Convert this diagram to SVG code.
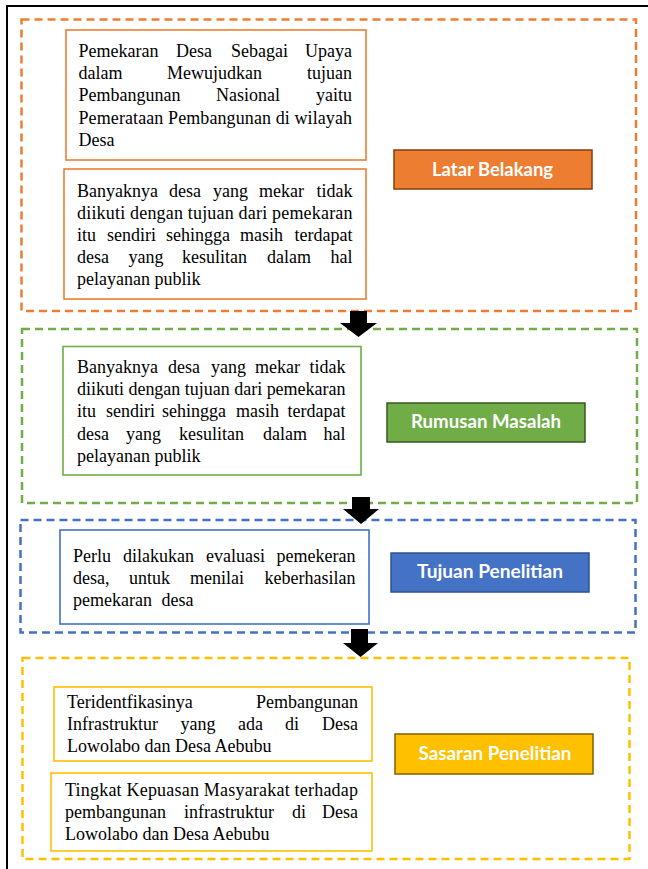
<svg xmlns="http://www.w3.org/2000/svg" width="648" height="869" viewBox="0 0 648 869">
<style>
.frame{fill:none;stroke:#000;stroke-width:2}
.dash{fill:none;stroke-width:2.5;stroke-dasharray:8 5}
.box{fill:#fff;stroke-width:1.6}
.t{font-family:"Liberation Serif","Times New Roman",serif;font-size:18px;fill:#000}
.e{text-anchor:end}
.lbl{font-family:Lato,"Liberation Sans",sans-serif;font-weight:bold;font-size:18px;fill:#fff;text-anchor:middle}
.arrow{fill:#000}
.or{stroke:#ED7D31}.gr{stroke:#70AD47}.bl{stroke:#4472C4}.ye{stroke:#FFC000}
</style>
<rect width="648" height="869" fill="#fff"/>
<path class="frame" d="M7,869 V6 H648"/>

<g id="latar-belakang-group">
<rect class="dash or" x="21.5" y="19.5" width="614.5" height="291.5"/>
</g>
<g id="latar-box-1">
<rect class="box or" x="66" y="30" width="300" height="130"/>
<text class="t" y="57"><tspan x="78.5">Pemekaran</tspan><tspan x="176">Desa</tspan><tspan x="231">Sebagai</tspan><tspan x="352" class="e">Upaya</tspan></text>
<text class="t" y="79"><tspan x="78.5">dalam</tspan><tspan x="167">Mewujudkan</tspan></text>
<text class="t e" x="352" y="79">tujuan</text>
<text class="t" y="101"><tspan x="78.5">Pembangunan</tspan><tspan x="216">Nasional</tspan></text>
<text class="t e" x="352" y="101">yaitu</text>
<text class="t" x="78.5" y="124" textLength="273.5" lengthAdjust="spacing">Pemerataan Pembangunan di wilayah</text>
<text class="t" x="78.5" y="146">Desa</text>
</g>
<g id="latar-box-2">
<rect class="box or" x="64" y="169" width="302" height="130"/>
<text class="t" y="197"><tspan x="77">Banyaknya</tspan><tspan x="169">desa</tspan><tspan x="213">yang</tspan><tspan x="259">mekar</tspan></text>
<text class="t e" x="352.5" y="197">tidak</text>
<text class="t" x="77" y="219" textLength="275.5" lengthAdjust="spacing">diikuti dengan tujuan dari pemekaran</text>
<text class="t" y="241"><tspan x="77">itu</tspan><tspan x="107">sendiri</tspan><tspan x="166">sehingga</tspan><tspan x="240">masih</tspan></text>
<text class="t e" x="352.5" y="241">terdapat</text>
<text class="t" y="263"><tspan x="77">desa</tspan><tspan x="128.5">yang</tspan><tspan x="182">kesulitan</tspan><tspan x="267">dalam</tspan></text>
<text class="t e" x="352.5" y="263">hal</text>
<text class="t" x="77" y="285">pelayanan publik</text>
</g>
<g id="latar-belakang">
<rect x="394" y="150" width="198" height="39" fill="#ED7D31" stroke="#843C0C" stroke-width="1.5"/>
<text class="lbl" x="492.5" y="176" textLength="121" lengthAdjust="spacingAndGlyphs">Latar Belakang</text>
</g>

<g id="rumusan-masalah-group">
<rect class="dash gr" x="22" y="329" width="615" height="174"/>
</g>
<g id="rumusan-box">
<rect class="box gr" x="63" y="346.5" width="298" height="128.5"/>
<text class="t" y="373"><tspan x="77">Banyaknya</tspan><tspan x="168">desa</tspan><tspan x="211">yang</tspan><tspan x="255">mekar</tspan></text>
<text class="t e" x="345.5" y="373">tidak</text>
<text class="t" x="77" y="395" textLength="268.5" lengthAdjust="spacing">diikuti dengan tujuan dari pemekaran</text>
<text class="t" y="417"><tspan x="77">itu</tspan><tspan x="106">sendiri</tspan><tspan x="162">sehingga</tspan><tspan x="236">masih</tspan></text>
<text class="t e" x="345.5" y="417">terdapat</text>
<text class="t" y="440"><tspan x="77">desa</tspan><tspan x="126">yang</tspan><tspan x="179">kesulitan</tspan><tspan x="263">dalam</tspan></text>
<text class="t e" x="345.5" y="440">hal</text>
<text class="t" x="77" y="462">pelayanan publik</text>
</g>
<g id="rumusan-masalah">
<rect x="387" y="403" width="198" height="39" fill="#70AD47" stroke="#385723" stroke-width="1.5"/>
<text class="lbl" x="486" y="428" textLength="150" lengthAdjust="spacingAndGlyphs">Rumusan Masalah</text>
</g>

<g id="tujuan-penelitian-group">
<rect class="dash bl" x="20.5" y="520" width="615" height="112.5"/>
</g>
<g id="tujuan-box">
<rect class="box bl" x="60" y="530" width="309" height="94"/>
<text class="t" y="562"><tspan x="73">Perlu</tspan><tspan x="123">dilakukan</tspan><tspan x="206">evaluasi</tspan></text>
<text class="t e" x="355.5" y="562">pemekeran</text>
<text class="t" y="584"><tspan x="73">desa,</tspan><tspan x="129">untuk</tspan><tspan x="190">menilai</tspan></text>
<text class="t e" x="355.5" y="584">keberhasilan</text>
<text class="t" y="606"><tspan x="73">pemekaran</tspan><tspan x="161.5">desa</tspan></text>
</g>
<g id="tujuan-penelitian">
<rect x="391" y="553" width="198" height="39" fill="#4472C4" stroke="#2F528F" stroke-width="1.5"/>
<text class="lbl" x="490" y="578" textLength="146" lengthAdjust="spacingAndGlyphs">Tujuan Penelitian</text>
</g>

<g id="sasaran-penelitian-group">
<rect class="dash ye" x="22.5" y="658" width="607" height="201"/>
</g>
<g id="sasaran-box-1">
<rect class="box ye" x="54" y="687" width="318" height="74"/>
<text class="t" x="67" y="708">Teridentfikasinya</text>
<text class="t e" x="358" y="708">Pembangunan</text>
<text class="t" y="730"><tspan x="67">Infrastruktur</tspan><tspan x="180.5">yang</tspan><tspan x="238">ada</tspan><tspan x="285">di</tspan></text>
<text class="t e" x="358" y="730">Desa</text>
<text class="t" x="67" y="752">Lowolabo dan Desa Aebubu</text>
</g>
<g id="sasaran-box-2">
<rect class="box ye" x="51" y="773" width="321" height="78"/>
<text class="t" x="65" y="796" textLength="293" lengthAdjust="spacing">Tingkat Kepuasan Masyarakat terhadap</text>
<text class="t" y="818"><tspan x="65">pembangunan</tspan><tspan x="184">infrastruktur</tspan><tspan x="292">di</tspan></text>
<text class="t e" x="358" y="818">Desa</text>
<text class="t" x="65" y="840">Lowolabo dan Desa Aebubu</text>
</g>
<g id="sasaran-penelitian">
<rect x="395" y="734" width="198" height="40" fill="#FFC000" stroke="#7F6000" stroke-width="1.5"/>
<text class="lbl" x="495" y="760" textLength="153" lengthAdjust="spacingAndGlyphs">Sasaran Penelitian</text>
</g>

<g id="connectors">
<polygon class="arrow" points="350,311 367,311 367,323 377,323 358.5,337 340,323 350,323"/>
<polygon class="arrow" points="352,497 370,497 370,509 379,509 361,524 343,509 352,509"/>
<polygon class="arrow" points="351,629 368,629 368,643 378,643 360.5,657 343,643 351,643"/>
</g>
</svg>
